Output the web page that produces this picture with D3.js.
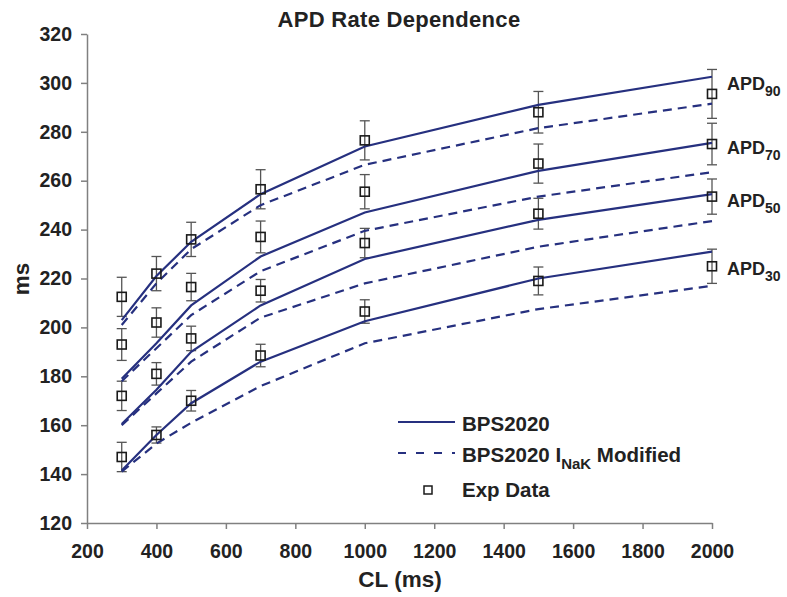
<!DOCTYPE html>
<html lang="en">
<head>
<meta charset="UTF-8">
<title>APD Rate Dependence</title>
<script src="https://cdnjs.cloudflare.com/ajax/libs/d3/7.8.5/d3.min.js"></script>
<style>
    body { margin: 0; background: #fff; }
    text { font-family: "Liberation Sans", Arial, sans-serif; font-weight: bold; fill: #222; }
</style>
</head>
<body>
<div id="chart"></div>
<script>
    // cycle lengths (ms)
    var cl = [300, 400, 500, 700, 1000, 1500, 2000];
    var apdNames = ["90", "70", "50", "30"];

    // BPS2020 model (solid)
    var bps90 = [203, 221, 235, 254.5, 274, 291, 302.5];
    var bps70 = [179, 193.5, 209, 229, 247, 264, 275.5];
    var bps50 = [160.5, 174.5, 190, 209, 228, 244, 254.5];
    var bps30 = [141.5, 156, 169, 186, 202.5, 220, 231];

    // BPS2020 INaK modified (dashed)
    var mod90 = [201, 218, 232, 250, 266.5, 281.5, 291.5];
    var mod70 = [178, 191.5, 205, 223, 239.5, 253.5, 263.5];
    var mod50 = [160, 173, 186, 204, 218, 233, 243.5];
    var mod30 = [141, 152.5, 161, 176, 193.5, 207.5, 217];

    // experimental data and error
    var exp90 = [212.5, 222, 236, 256.5, 276.5, 288, 295.5];
    var exp70 = [193, 202, 216.5, 237, 255.5, 267, 275];
    var exp50 = [172, 181, 195.5, 215, 234.5, 246.5, 253.5];
    var exp30 = [147, 156, 170, 188.5, 206.5, 219, 225];
    var err90 = [8, 7, 7, 8, 8, 8.5, 10];
    var err70 = [6.5, 6, 5.6, 6.5, 7, 8, 8.5];
    var err50 = [6, 4.6, 5, 4.6, 6, 6.3, 7.2];
    var err30 = [6, 3.3, 4.2, 4.6, 4.8, 5.7, 7];

    // value where each APD label sits at the right end
    var labelAt = [299.5, 273.5, 251.5, 224];

    var xTicks = [200, 400, 600, 800, 1000, 1200, 1400, 1600, 1800, 2000];
    var yTicks = [120, 140, 160, 180, 200, 220, 240, 260, 280, 300, 320];

    var solid = [bps90, bps70, bps50, bps30];
    var dashed = [mod90, mod70, mod50, mod30];
    var expData = [exp90, exp70, exp50, exp30];
    var expErr = [err90, err70, err50, err30];

    var lineColor = "#26307f";
    var W = 787, H = 597;
    var margin = {top: 34, right: 75, bottom: 74, left: 87},
        width = W - margin.left - margin.right,
        height = H - margin.top - margin.bottom;

    var svg = d3.select("#chart").append("svg")
        .attr("width", W)
        .attr("height", H);

    var g = svg.append("g")
        .attr("transform", "translate(" + margin.left + "," + margin.top + ")");

    var x = d3.scaleLinear().domain([200, 2000]).range([0, width]);
    var y = d3.scaleLinear().domain([120, 320]).range([height, 0]);

    var xAxis = d3.axisBottom(x).tickValues(xTicks).tickFormat(d3.format("d"))
        .tickSize(6).tickSizeOuter(0).tickPadding(15);
    var yAxis = d3.axisLeft(y).tickValues(yTicks).tickFormat(d3.format("d"))
        .tickSize(6).tickSizeOuter(0).tickPadding(9);

    var gx = g.append("g")
        .attr("transform", "translate(0," + height + ")")
        .call(xAxis);
    var gy = g.append("g").call(yAxis);

    [gx, gy].forEach(function (a) {
        a.selectAll("path, line").attr("stroke", "#808080").attr("stroke-width", 1.5);
        a.selectAll("text")
            .style("font-size", "19.5px")
            .style("font-family", "Liberation Sans, Arial, sans-serif")
            .style("font-weight", "bold")
            .attr("fill", "#222");
    });

    var line = d3.line()
        .x(function (d) { return x(d[0]); })
        .y(function (d) { return y(d[1]); });

    function pairs(vals) {
        return vals.map(function (v, i) { return [cl[i], v]; });
    }

    // error bars
    expData.forEach(function (vals, k) {
        var grp = g.append("g");
        vals.forEach(function (v, i) {
            var e = expErr[k][i], cx = x(cl[i]);
            grp.append("line")
                .attr("x1", cx).attr("x2", cx)
                .attr("y1", y(v + e)).attr("y2", y(v - e))
                .attr("stroke", "#555").attr("stroke-width", 1.3);
            [v + e, v - e].forEach(function (t) {
                grp.append("line")
                    .attr("x1", cx - 5).attr("x2", cx + 5)
                    .attr("y1", y(t)).attr("y2", y(t))
                    .attr("stroke", "#555").attr("stroke-width", 1.3);
            });
        });
    });

    dashed.forEach(function (vals) {
        g.append("path")
            .datum(pairs(vals))
            .attr("d", line)
            .attr("fill", "none")
            .attr("stroke", lineColor)
            .attr("stroke-width", 2.2)
            .attr("stroke-dasharray", "9,6");
    });

    solid.forEach(function (vals) {
        g.append("path")
            .datum(pairs(vals))
            .attr("d", line)
            .attr("fill", "none")
            .attr("stroke", lineColor)
            .attr("stroke-width", 2.2);
    });

    expData.forEach(function (vals) {
        g.selectAll(null)
            .data(pairs(vals))
            .enter().append("rect")
            .attr("x", function (d) { return x(d[0]) - 4.5; })
            .attr("y", function (d) { return y(d[1]) - 4.5; })
            .attr("width", 9).attr("height", 9)
            .attr("fill", "none")
            .attr("stroke", "#1a1a1a")
            .attr("stroke-width", 1.6);
    });

    // APD labels
    apdNames.forEach(function (n, k) {
        var t = g.append("text")
            .attr("x", x(2000) + 15)
            .attr("y", y(labelAt[k]) + 6)
            .style("font-size", "18px");
        t.append("tspan").text("APD");
        t.append("tspan").attr("dy", 6).style("font-size", "14px").text(n);
    });

    // title and axis titles
    svg.append("text")
        .attr("x", 399).attr("y", 27)
        .attr("text-anchor", "middle")
        .style("font-size", "22px")
        .style("letter-spacing", "0.3px")
        .text("APD Rate Dependence");

    svg.append("text")
        .attr("x", 400).attr("y", 587)
        .attr("text-anchor", "middle")
        .style("font-size", "22.5px")
        .text("CL (ms)");

    svg.append("text")
        .attr("transform", "translate(29,279) rotate(-90)")
        .attr("text-anchor", "middle")
        .style("font-size", "22.5px")
        .text("ms");

    // legend
    var lg = svg.append("g").attr("transform", "translate(398,0)");
    lg.append("line")
        .attr("x1", 0).attr("x2", 57).attr("y1", 422).attr("y2", 422)
        .attr("stroke", lineColor).attr("stroke-width", 2);
    lg.append("text").attr("x", 64).attr("y", 431).style("font-size", "20.5px").text("BPS2020");

    lg.append("line")
        .attr("x1", 0).attr("x2", 57).attr("y1", 453).attr("y2", 453)
        .attr("stroke", lineColor).attr("stroke-width", 2)
        .attr("stroke-dasharray", "8,10");
    var t2 = lg.append("text").attr("x", 64).attr("y", 462).style("font-size", "20.5px");
    t2.append("tspan").text("BPS2020 I");
    t2.append("tspan").attr("dy", 7).style("font-size", "15px").text("NaK");
    t2.append("tspan").attr("dy", -7).text(" Modified");

    lg.append("rect")
        .attr("x", 26).attr("y", 486).attr("width", 8).attr("height", 8)
        .attr("fill", "none").attr("stroke", "#1a1a1a").attr("stroke-width", 1.5);
    lg.append("text").attr("x", 64).attr("y", 497).style("font-size", "20.5px").text("Exp Data");
</script>
</body>
</html>
